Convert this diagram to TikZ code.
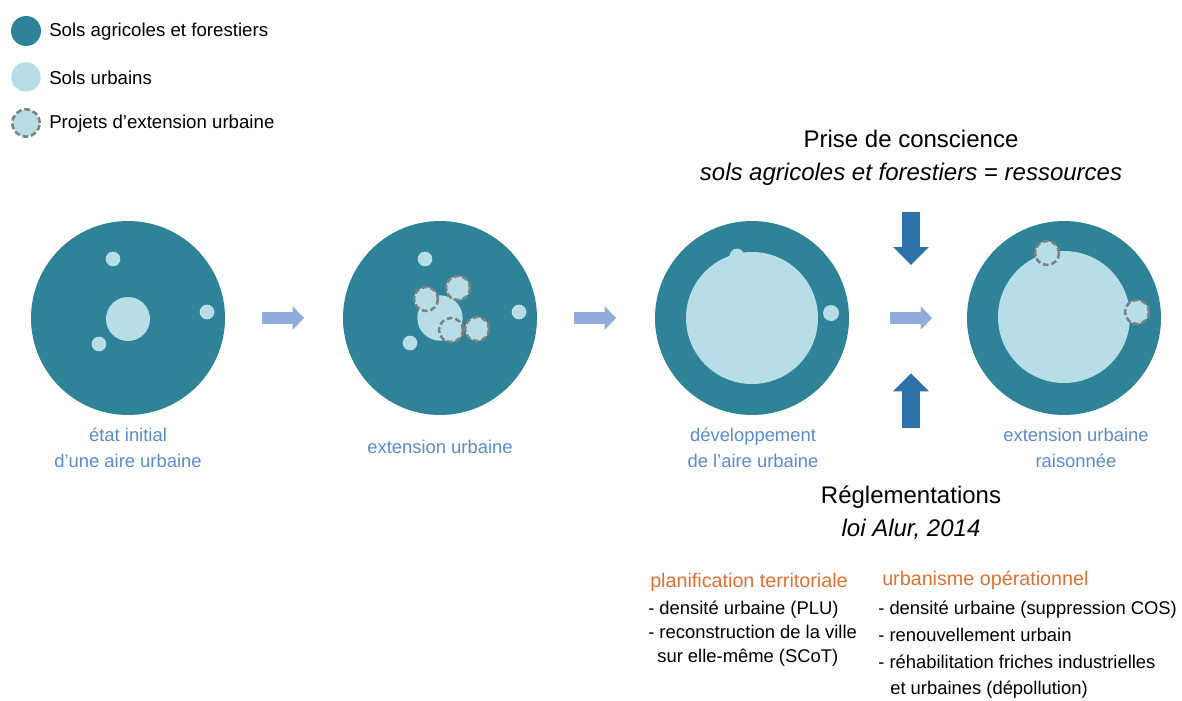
\documentclass[tikz,border=0pt]{standalone}
\usepackage{fontspec}
\setmainfont{Liberation Sans}
\usetikzlibrary{positioning,arrows.meta}
\definecolor{solDark}{RGB}{46,131,153}
\definecolor{solLight}{RGB}{183,222,230}
\definecolor{projGray}{RGB}{128,128,128}
\definecolor{capBlue}{RGB}{88,140,206}
\definecolor{flowBlue}{RGB}{143,172,218}
\definecolor{pushBlue}{RGB}{44,114,168}
\definecolor{rulesOrange}{RGB}{226,112,50}

\begin{document}
\begin{tikzpicture}[x=0.75pt,y=-0.75pt,
      soil/.style={circle, fill=solDark, inner sep=0pt, minimum size=145.5pt},
      urban/.style={circle, fill=solLight, inner sep=0pt, minimum size=11pt},
      project/.style={urban, draw=projGray, line width=1.9pt,
                      dash pattern=on 4.3pt off 2.2pt, minimum size=18pt},
      legtxt/.style={anchor=west, inner sep=0pt, font=\fontsize{14}{16}\selectfont},
      stagecap/.style={align=center, font=\fontsize{13.8}{19.5}\selectfont\color{capBlue}},
      head/.style={align=center, font=\fontsize{18}{24.5}\selectfont},
      orangehd/.style={anchor=west, inner sep=0pt, font=\fontsize{14.8}{16}\selectfont\color{rulesOrange}},
      lst/.style={anchor=west, inner sep=0pt, align=left},
      flow/.style={-{Triangle[length=8.5pt,width=17pt]}, line width=8.5pt, flowBlue},
      push/.style={-{Triangle[length=13.5pt,width=26pt]}, line width=13.5pt, pushBlue}
    ]
    \useasboundingbox (0,0) rectangle (1182,700);

    % legend
    \node[soil, minimum size=22.5pt] (keysoil) at (26,31) {};
    \node[urban, minimum size=22pt] (keyurban) at (26,77) {};
    \node[project, minimum size=20.5pt] (keyproj) at (26,123) {};
    \node[legtxt] (keysoiltxt) at (49,32) {Sols agricoles et forestiers};
    \node[legtxt] (keyurbantxt) at (49,78) {Sols urbains};
    \node[legtxt] (keyprojtxt) at (49,124) {Projets d’extension urbaine};

    % four stages
    \node[soil] (c1) at (128,318) {};
    \node[soil] (c2) at (440,318) {};
    \node[soil] (c3) at (752,318) {};
    \node[soil] (c4) at (1064,318) {};

    % stage 1
    \node[urban, minimum size=33pt] (c1core) at (128,319) {};
    \node[urban] (c1a) at (113,259) {};
    \node[urban] (c1b) at (207,312) {};
    \node[urban] (c1c) at (99,344) {};

    % stage 2
    \node[urban, minimum size=34pt] (c2core) at (440,318) {};
    \node[urban] (c2a) at (425,259) {};
    \node[urban] (c2b) at (519,312) {};
    \node[urban] (c2c) at (410,343) {};
    \node[project] (c2p1) at (426,299) {};
    \node[project] (c2p2) at (458,288) {};
    \node[project] (c2p3) at (451,330) {};
    \node[project] (c2p4) at (477,329) {};

    % stage 3
    \node[urban] (c3a) at (737,256) {};
    \node[urban, minimum size=99pt] (c3core) at (752,318) {};
    \node[urban, minimum size=12pt] (c3b) at (831,313) {};

    % stage 4
    \node[urban, minimum size=99pt] (c4core) at (1064,317) {};
    \node[project] (c4p1) at (1047,253) {};
    \node[project] (c4p2) at (1137,312) {};

    % captions
    \node[stagecap] (cap1) at (128,448) {état initial\\d’une aire urbaine};
    \node[stagecap] (cap2) at (440,447) {extension urbaine};
    \node[stagecap] (cap3) at (753,448) {développement\\de l’aire urbaine};
    \node[stagecap] (cap4) at (1076,448) {extension urbaine\\raisonnée};

    % transitions
    \draw[flow, shorten <=27.5pt, shorten >=29pt] (c1) -- (c2);
    \draw[flow, shorten <=27.5pt, shorten >=29pt] (c2) -- (c3);
    \draw[flow, shorten <=30.5pt, shorten >=26pt] (c3) -- (c4);

    % pressures
    \coordinate (gap) at (911,318);
    \coordinate (awareIn) at (911,212);
    \coordinate (ruleIn) at (911,428);
    \draw[push, shorten >=39.75pt] (awareIn) -- (gap);
    \draw[push, shorten >=41.5pt] (ruleIn) -- (gap);

    \node[head] (aware) at (911,158) {Prise de conscience\\\itshape sols agricoles et forestiers \upshape= \itshape ressources};
    \node[head] (rules) at (911,512.5) {Réglementations\\\itshape loi Alur, 2014};

    % regulation details
    \node[orangehd] (plan) at (650,582) {planification territoriale};
    \node[orangehd] (oper) at (882,580) {urbanisme opérationnel};
    \node[lst, font=\fontsize{13.8}{18}\selectfont] (planlst) at (648,634)
      {- densité urbaine (PLU)\\- reconstruction de la ville\\\hspace*{6.8pt}sur elle-même (SCoT)};
    \node[lst, font=\fontsize{13.8}{20}\selectfont] (operlst) at (878,650)
      {- densité urbaine (suppression COS)\\- renouvellement urbain\\- réhabilitation friches industrielles\\\hspace*{9pt}et urbaines (dépollution)};
  \end{tikzpicture}
\end{document}
